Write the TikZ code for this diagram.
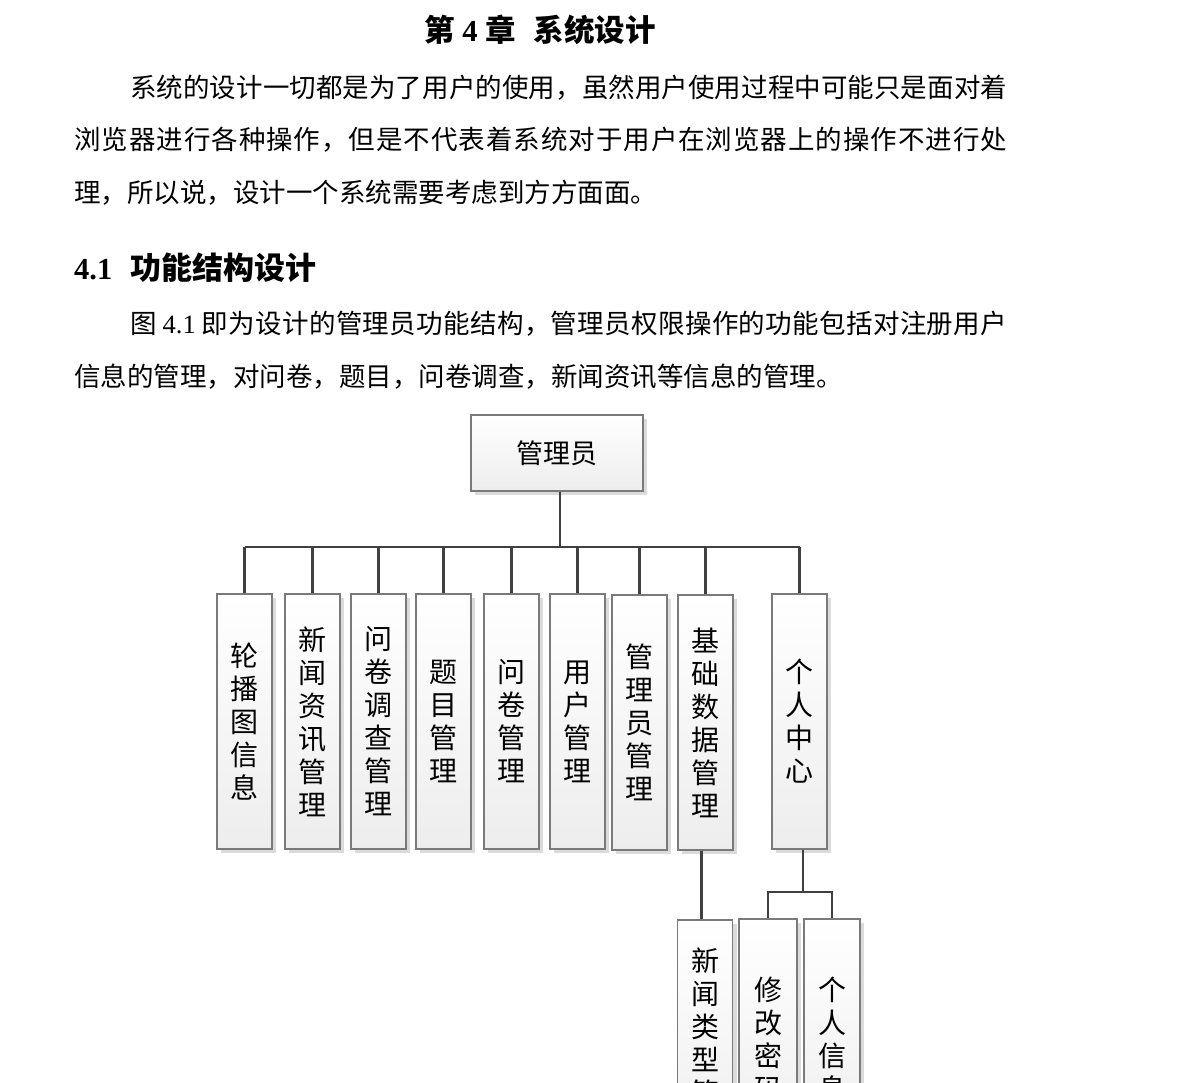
\documentclass[tikz,border=0pt]{standalone}
\usepackage{fontspec}
\setmainfont{Liberation Serif}
\newfontfamily\cjk{Noto Sans CJK SC}
\usetikzlibrary{shadows}
\def\spc#1{\ifx#1\relax\else#1\hskip0pt plus 1fil\expandafter\spc\fi}
\tikzset{
  conn/.style={draw=black!75, line width=2.4pt},
  box/.style={draw=black!52, line width=1.3pt, top color=white, bottom color=black!7,
    drop shadow={shadow xshift=4pt, shadow yshift=-4pt, fill=black!14, opacity=1},
    inner sep=0pt, align=center, font=\cjk\fontsize{28}{33}\selectfont},
  vbox/.style={box, minimum width=55pt, minimum height=255pt},
  body/.style={anchor=west, inner sep=0pt, font=\cjk\fontsize{26.5}{30}\selectfont},
  head/.style={anchor=west, inner sep=0pt, font=\bfseries\fontsize{30.5}{32}\selectfont},
}
\begin{document}
\begin{tikzpicture}[x=1pt,y=-1pt]
\useasboundingbox (0,0) rectangle (1178,1082);
\clip (0,0) rectangle (1178,1082);
\fill[white] (0,0) rectangle (1178,1082);

% text
\node[head] (title) at (424,30) {{\cjk 第} 4 {\cjk 章}\hspace{18pt}{\cjk 系统设计}};
\node[body] (p1a) at (130,88) {\hbox to 877pt{\spc 系统的设计一切都是为了用户的使用，虽然用户使用过程中可能只是面对着\relax\unskip}};
\node[body] (p1b) at (74,140) {\hbox to 933pt{\spc 浏览器进行各种操作，但是不代表着系统对于用户在浏览器上的操作不进行处\relax\unskip}};
\node[body] (p1c) at (74,193) {理，所以说，设计一个系统需要考虑到方方面面。};
\node[head] (sec) at (74,268) {4.1\hspace{18pt}{\cjk\fontsize{31}{32}\selectfont 功能结构设计}};
\node[body] (p2a) at (130,324) {\hbox to 877pt{图 {\rmfamily 4.1} \spc 即为设计的管理员功能结构，管理员权限操作的功能包括对注册用户\relax\unskip}};
\node[body] (p2b) at (74,377) {信息的管理，对问卷，题目，问卷调查，新闻资讯等信息的管理。};

% diagram
\node[box, minimum width=172pt, minimum height=76pt, font=\cjk\fontsize{27}{30}\selectfont] (root) at (557,453) {管理员};
\node[vbox] (c1) at (244.5,721.5) {轮\\播\\图\\信\\息};
\node[vbox] (c2) at (312.5,721.5) {新\\闻\\资\\讯\\管\\理};
\node[vbox] (c3) at (378.5,721.5) {问\\卷\\调\\查\\管\\理};
\node[vbox] (c4) at (443.5,721.5) {题\\目\\管\\理};
\node[vbox] (c5) at (511.5,721.5) {问\\卷\\管\\理};
\node[vbox] (c6) at (577.5,721.5) {用\\户\\管\\理};
\node[vbox] (c7) at (639.5,722.5) {管\\理\\员\\管\\理};
\node[vbox] (c8) at (705.5,722.5) {基\\础\\数\\据\\管\\理};
\node[vbox] (c9) at (799.5,721.5) {个\\人\\中\\心};
\node[vbox, minimum height=245pt] (s1) at (705,1042.5) {新\\闻\\类\\型\\管\\理};
\node[vbox, minimum width=58pt, minimum height=241pt] (s2) at (768,1039.5) {修\\改\\密\\码};
\node[vbox, minimum width=56pt, minimum height=241pt] (s3) at (832,1039.5) {个\\人\\信\\息};

\coordinate (bus) at (560,547);
\coordinate (j9) at (803,892);
\draw[conn] ([xshift=3pt]root.south) -- (bus);
\draw[conn] (c1.north |- bus) -- (c9.north |- bus);
\foreach \n in {c1,c2,c3,c4,c5,c6,c7,c8,c9}
  \draw[conn] (\n.north |- bus) -- (\n.north);
\draw[conn] ([xshift=-4pt]c8.south) -- ([xshift=-4pt]c8.south |- s1.north);
\draw[conn] ([xshift=3.5pt]c9.south) -- ([xshift=3.5pt]c9.south |- j9);
\draw[conn] (s2.north) |- (j9) -| (s3.north);
\end{tikzpicture}
\end{document}
